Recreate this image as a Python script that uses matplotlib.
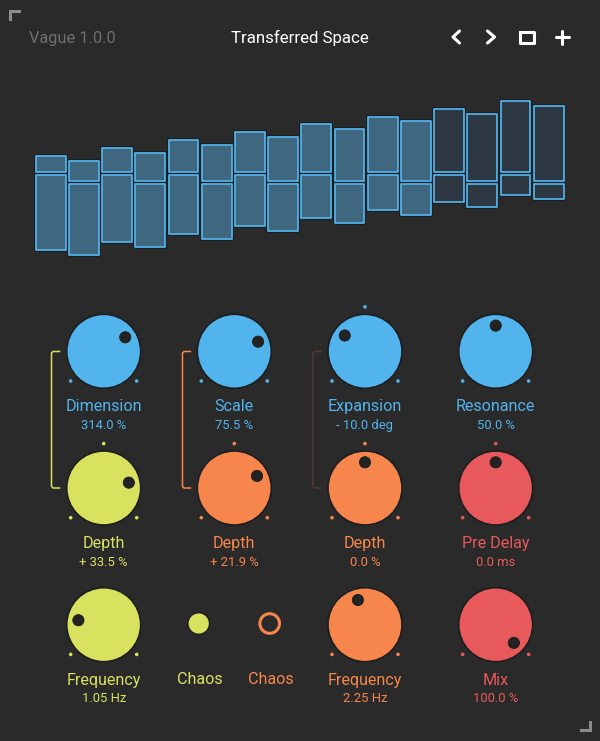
import matplotlib
matplotlib.use('agg')
import matplotlib.pyplot as plt
import matplotlib.patheffects as pe
from matplotlib.patches import Circle
import numpy as np

BG = '#2a2a2a'
DARK = '#1d1e20'
BLUE = '#52b4ec'
YELLOW = '#d9e25f'
ORANGE = '#f7864c'
RED = '#e8595c'
GREY = '#6e6e6e'
CORNER = '#8c8c8c'

# overview bars, upper and lower part measured from the centre line
upper_values = [17.6, 21.6, 25.6, 29.2, 33.6, 37.2, 41.2, 45.2, 49.2, 53.2, 57.0, 60.8, 65.0, 68.6, 72.6, 76.6]
lower_values = [76.6, 72.6, 68.8, 65.0, 60.8, 57.0, 52.8, 49.0, 44.8, 41.2, 36.8, 33.2, 28.8, 25.2, 21.2, 17.2]
bar_active = [1, 1, 1, 1, 1, 1, 1, 1, 1, 1, 1, 1, 0, 0, 0, 0]

knob_names = ['Dimension', 'Scale', 'Expansion', 'Resonance',
              'Depth', 'Depth', 'Depth', 'Pre Delay',
              'Frequency', 'Frequency', 'Mix']
knob_readouts = ['314.0 %', '75.5 %', '- 10.0 deg', '50.0 %',
                 '+ 33.5 %', '+ 21.9 %', '0.0 %', '0.0 ms',
                 '1.05 Hz', '2.25 Hz', '100.0 %']
# pointer angle in degrees, clockwise from straight up
knob_angles = [57, 68, -52, 0, 78, 62, 0, 0, -80, -16, 135]
knob_bipolar = [0, 0, 1, 0, 1, 1, 1, 1, 0, 0, 0]
knob_colors = [BLUE, BLUE, BLUE, BLUE, YELLOW, ORANGE, ORANGE, RED, YELLOW, ORANGE, RED]
knob_cols = [0, 1, 2, 3, 0, 1, 2, 3, 0, 2, 3]
knob_rows = [0, 0, 0, 0, 1, 1, 1, 1, 2, 2, 2]

COL_X = [103.7, 234.3, 365.0, 495.7]
ROW_Y = [351.3, 488.0, 624.7]
KNOB_R = 37.0
POINTER_R = 25.7
DOT_R = 44.4
FONT = 'Roboto'

fig = plt.figure(figsize=(6, 7.41), dpi=100, facecolor=BG)
ax = fig.add_axes([0, 0, 1, 1])
ax.set_xlim(0, 600)
ax.set_ylim(741, 0)
ax.axis('off')


def label(x, y, text, color, size):
    ax.text(x, y, text, color=color, fontsize=size, family=FONT, ha='center', va='center')


# header
ax.text(29, 38, 'Vague 1.0.0', color=GREY, fontsize=11.8, family=FONT, ha='left', va='center')
label(299.5, 38, 'Transferred Space', 'white', 12.2)
icon = dict(color='white', lw=2.2, solid_capstyle='round', solid_joinstyle='round')
ax.plot([459.5, 453, 459.5], [31, 37, 43], **icon)
ax.plot([487.5, 494.5, 487.5], [31, 37, 43], **icon)
ax.plot([520, 534, 534, 520, 520], [31.5, 31.5, 43, 43, 31.5], **icon)
ax.plot([555.5, 569], [37, 37], **icon)
ax.plot([562.3, 562.3], [31, 43.5], **icon)

# resize corners
ax.plot([9.5, 9.5, 18.5], [18.5, 10.5, 10.5], color=CORNER, lw=2.2, solid_joinstyle='miter')
ax.plot([581, 589.5, 589.5], [730, 730, 722], color=CORNER, lw=2.2, solid_joinstyle='miter')

# overview bars
ax_bars = fig.add_axes([34.05 / 600, 1 - 263.7 / 741, 531.2 / 600, 170 / 741])
ax_bars.set_xlim(-0.5, 15.5)
ax_bars.set_ylim(-90, 80)
ax_bars.axis('off')
x = np.arange(len(upper_values))
offset = np.where(x % 2 == 1, -8.6, 0.0)
fills = ['#3f6780' if a else '#2e3842' for a in bar_active]
upper = np.array(upper_values)
lower = np.array(lower_values)
gap = 1.7
top_bars = ax_bars.bar(x, upper - gap, bottom=offset + gap, width=0.9, color=fills, edgecolor=BLUE, linewidth=1.25)
low_bars = ax_bars.bar(x, -(lower - gap), bottom=offset - gap, width=0.9, color=fills, edgecolor=BLUE, linewidth=1.25)
for patch in list(top_bars) + list(low_bars):
    patch.set_joinstyle('round')
    patch.set_path_effects([pe.Stroke(linewidth=2.8, foreground=DARK), pe.Normal()])

# modulation brackets
for bx, color in [(51.5, YELLOW), (182.5, ORANGE), (313, '#503a30')]:
    ax.plot([bx + 8, bx + 1.5, bx, bx, bx + 1.5, bx + 8], [351.5, 351.5, 353, 486.5, 488, 488],
            color=color, lw=1.1, solid_joinstyle='round')

# knobs
for name, value, angle, bipolar, color, col, row in zip(knob_names, knob_readouts, knob_angles, knob_bipolar,
                                                         knob_colors, knob_cols, knob_rows):
    cx, cy = COL_X[col], ROW_Y[row]
    ax.add_patch(Circle((cx, cy), KNOB_R, facecolor=color, edgecolor=DARK, linewidth=1.2))
    t = np.radians(angle)
    ax.add_patch(Circle((cx + POINTER_R * np.sin(t), cy - POINTER_R * np.cos(t)), 5.6,
                        facecolor='#232323', edgecolor=DARK, linewidth=0.6))
    dots = [-132, 132] + ([0] if bipolar else [])
    for d in dots:
        t = np.radians(d)
        ax.add_patch(Circle((cx + DOT_R * np.sin(t), cy - DOT_R * np.cos(t)), 1.8, facecolor=color, edgecolor='none'))
    label(cx, cy + 55.5, name, color, 11.6)
    label(cx, cy + 74.3, value, color, 9.4)

# chaos buttons
ax.add_patch(Circle((198.7, 623.5), 10.8, facecolor=YELLOW, edgecolor=DARK, linewidth=1))
ax.add_patch(Circle((269.7, 623.5), 9.8, facecolor='none', edgecolor=ORANGE, linewidth=2.2))
label(199.7, 679.8, 'Chaos', YELLOW, 11.6)
label(270.7, 679.8, 'Chaos', ORANGE, 11.6)

fig.savefig('out.png', dpi=100, facecolor=BG)
